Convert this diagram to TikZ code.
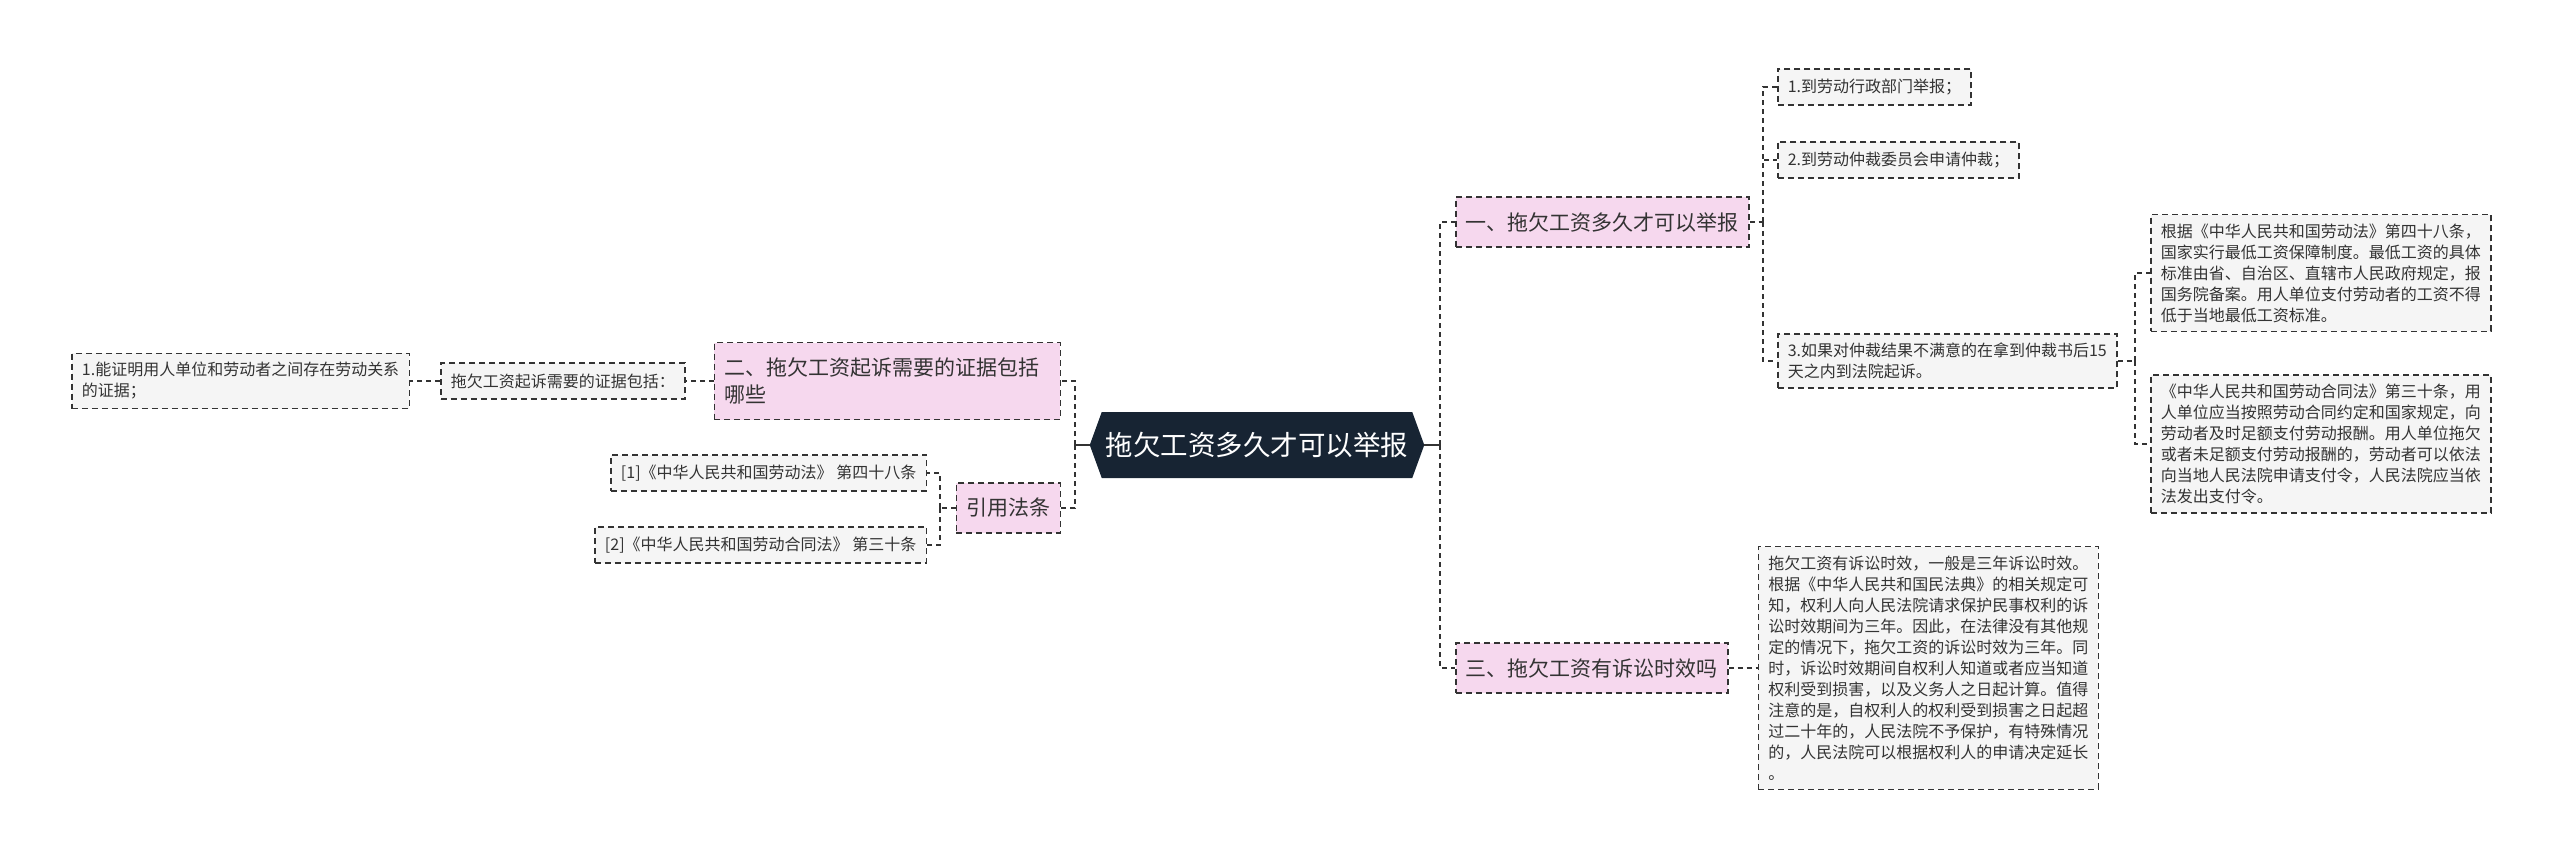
\documentclass[tikz,border=0pt]{standalone}
\usepackage{fontspec}
\setmainfont{Noto Sans CJK SC}
\usetikzlibrary{shapes.symbols,positioning}
\definecolor{hubblue}{HTML}{172433}
\definecolor{topicpink}{HTML}{F6D8EE}
\definecolor{leafgray}{HTML}{F5F5F5}
\definecolor{ink}{HTML}{333333}

\begin{document}
\begin{tikzpicture}[x=1pt,y=-1pt, font=\fontsize{16}{21}\selectfont,
  hub/.style={shape=signal,signal to=east and west,signal pointer angle=140,fill=hubblue,text=white,font=\fontsize{27.5}{32}\selectfont,inner xsep=4pt,minimum height=66pt},
  topic/.style={draw=ink,dash pattern=on 6pt off 4pt,line width=1.5pt,fill=topicpink,text=ink,font=\fontsize{21}{27}\selectfont,inner xsep=10pt,inner ysep=8pt,minimum height=50pt,align=left},
  leaf/.style={draw=ink,dash pattern=on 6pt off 4pt,line width=1.5pt,fill=leafgray,text=ink,inner xsep=10pt,inner ysep=9pt,minimum height=36pt,align=left},
  link/.style={draw=ink,line width=2pt,dash pattern=on 5pt off 4pt},
  stem/.style={draw=ink,line width=2pt}]
 \useasboundingbox (0,0) rectangle (2560,861);
 \node[hub] (root) at (1257,445) {拖欠工资多久才可以举报};
 \node[topic, anchor=west] (b1) at (1455,222) {一、拖欠工资多久才可以举报};
 \node[topic, anchor=west] (b3) at (1455,668) {三、拖欠工资有诉讼时效吗};
 \node[topic, anchor=east, text width=326pt, minimum height=77pt] (b2) at (1061,381) {二、拖欠工资起诉需要的证据包括\\哪些};
 \node[topic, anchor=east] (law) at (1061,508) {引用法条};
 \node[leaf, anchor=west] (r1) at (1777,87) {1.到劳动行政部门举报；};
 \node[leaf, anchor=west] (r2) at (1777,160) {2.到劳动仲裁委员会申请仲裁；};
 \node[leaf, anchor=west] (r3) at (1777,361) {3.如果对仲裁结果不满意的在拿到仲裁书后15\\天之内到法院起诉。};
 \node[leaf, anchor=west] (act) at (2150,273) {根据《中华人民共和国劳动法》第四十八条，\\国家实行最低工资保障制度。最低工资的具体\\标准由省、自治区、直辖市人民政府规定，报\\国务院备案。用人单位支付劳动者的工资不得\\低于当地最低工资标准。};
 \node[leaf, anchor=west] (contract) at (2150,444) {《中华人民共和国劳动合同法》第三十条，用\\人单位应当按照劳动合同约定和国家规定，向\\劳动者及时足额支付劳动报酬。用人单位拖欠\\或者未足额支付劳动报酬的，劳动者可以依法\\向当地人民法院申请支付令，人民法院应当依\\法发出支付令。};
 \node[leaf, right=29pt of b3] (limit) {拖欠工资有诉讼时效，一般是三年诉讼时效。\\根据《中华人民共和国民法典》的相关规定可\\知，权利人向人民法院请求保护民事权利的诉\\讼时效期间为三年。因此，在法律没有其他规\\定的情况下，拖欠工资的诉讼时效为三年。同\\时，诉讼时效期间自权利人知道或者应当知道\\权利受到损害，以及义务人之日起计算。值得\\注意的是，自权利人的权利受到损害之日起超\\过二十年的，人民法院不予保护，有特殊情况\\的，人民法院可以根据权利人的申请决定延长\\。};
 \node[leaf, left=28pt of b2] (need) {拖欠工资起诉需要的证据包括：};
 \node[leaf, left=30pt of need] (proof) {1.能证明用人单位和劳动者之间存在劳动关系\\的证据；};
 \node[leaf, anchor=east] (ref1) at (927,473) {[1]《中华人民共和国劳动法》 第四十八条};
 \node[leaf, anchor=east] (ref2) at (927,545) {[2]《中华人民共和国劳动合同法》 第三十条};
 \coordinate (jl) at (1075,445); \coordinate (jr) at (1440,445); \coordinate (j1) at (1763,222); \coordinate (j3) at (2135,361); \coordinate (jlaw) at (940,508);
 \draw[stem] (root.west) -- (jl); \draw[link] (jl) |- (b2.east); \draw[link] (jl) |- (law.east);
 \draw[stem] (root.east) -- (jr); \draw[link] (jr) |- (b1.west); \draw[link] (jr) |- (b3.west);
 \draw[link] (b1.east) -- (j1); \draw[link] (j1) |- (r1.west); \draw[link] (j1) |- (r2.west); \draw[link] (j1) |- (r3.west);
 \draw[link] (r3.east) -- (j3); \draw[link] (j3) |- (act.west); \draw[link] (j3) |- (contract.west);
 \draw[link] (b3.east) -- (limit.west); \draw[link] (b2.west) -- (need.east); \draw[link] (need.west) -- (proof.east);
 \draw[link] (law.west) -- (jlaw); \draw[link] (jlaw) |- (ref1.east); \draw[link] (jlaw) |- (ref2.east);
\end{tikzpicture}
\end{document}
